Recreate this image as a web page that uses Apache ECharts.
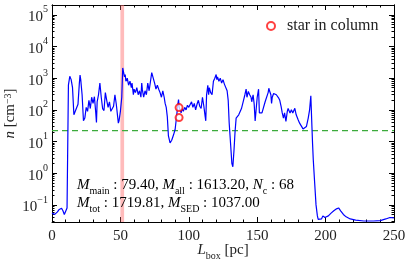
<!DOCTYPE html>
<html><head><meta charset="utf-8">
<script src="https://cdn.jsdelivr.net/npm/echarts@6/dist/echarts.min.js"></script>
<style>html,body{margin:0;padding:0;background:#fff}#c{width:407px;height:262px}</style>
</head><body><div id="c"></div>
<script>
// ---- data ----
const L_pc = [
 0,1,2,3,4,5,6,7,8,9,10,11,12,13,14,15,16,17,18,19,20,20.5,21,22,23,24,25,26,27,28,29,30,31,32,32.5,33,34,35,36,37,38,39,40,41,42,43,44,45,46,47,48,48.5,49,50,51,51.7,
 52,52.5,53,53.5,54,55,56,57,58,58.5,59.5,60,61,62,63,64,65,65.6,66,67,68,69,70,71,72,72.9,73.5,74,75,76,76.6,77,78,79,80,80.3,81,82,82.7,83.5,84.3,85.1,86.3,87.5,88.8,90,91.2,92,92.5,93,94.4,95,96,97,98,99,
 100,101,102,103,104,105,106,107,108,109,110,111,112,112.4,113,113.9,114.5,115,116,117,118,119,120,120.5,121,122,123,124,125,126,127,128,128.8,129.5,130.5,131.5,132.2,133,133.8,134.6,135.5,136.5,137.5,138.5,139.5,140,141,141.9,142.5,143.5,144.5,145.5,146,147,147.8,148.5,149.5,150,151,151.6,152.5,153.5,154.5,155.8,
 157,158,158.5,159,160,160.5,161,162,163,164,165,165.6,166.5,167.5,168.3,169.2,170,171,172,172.6,174,175,176,177.5,178.5,180,181,182.4,183.5,184.8,186,187.3,188.3,189.2,190,190.5,191,192,193,194,194.6,
 195,196,197,198,198.5,199.5,200.5,202,204,206,208,209.5,211,213,215,218,222,228,235,240,244,247,250
];
const n_cm3 = [
 0.055,0.052,0.05,0.053,0.06,0.07,0.08,0.078,0.065,0.05,0.045,0.08,600,1150,900,500,70,90,80,150,700,1250,900,300,45,55,120,90,200,110,250,160,260,80,40,180,300,700,250,110,95,350,200,120,180,90,80,130,300,150,60,38,45,90,250,2100,
 2000,1400,1100,1300,800,1000,600,800,500,700,300,450,350,500,300,400,250,700,450,250,400,300,700,400,800,1500,1300,1400,700,450,400,600,450,350,250,260,400,250,160,120,60,15,9,11,16,24,70,150,210,120,80,110,90,120,100,140,
 120,110,180,120,160,100,150,200,130,110,250,130,60,45,300,600,300,500,350,300,800,1000,1300,900,1100,800,1000,700,900,650,700,400,200,40,9,2,1.6,5,20,55,60,70,75,110,100,200,300,450,250,380,300,250,180,300,150,45,40,250,450,80,70,80,75,180,
 160,350,480,400,300,160,250,330,380,300,330,240,200,126,80,55,80,43,90,110,80,100,80,112,70,48,38,34,25,22,30,55,100,280,30,8,2.6,0.5,0.1,0.045,0.035,
 0.035,0.034,0.036,0.045,0.05,0.04,0.038,0.045,0.055,0.065,0.075,0.08,0.065,0.05,0.042,0.036,0.033,0.031,0.031,0.032,0.036,0.04,0.039
];
const starL = [92.9, 92.9];
const starN = [118, 57];
const bandL = [50, 52.7];
const threshold = 22;
const xRange = [0, 250];
const yRange = [Math.pow(10, -1.54), Math.pow(10, 5.31)];
const yMajor = [0.1, 1, 10, 100, 1000, 10000, 100000];
const yMinor = [];
for (let e = -2; e <= 5; e++) for (let k = 2; k <= 9; k++) {
  const v = k * Math.pow(10, e);
  if (v > yRange[0] && v < yRange[1]) yMinor.push(v);
}
const annot1 = '{i|M}{sub|main}{t| : 79.40, }{i|M}{sub|all}{t| : 1613.20, }{i|N}{sub|c}{t| : 68}';
const annot2 = '{i|M}{sub|tot}{t| : 1719.81, }{i|M}{sub|SED}{t| : 1037.00}';

// ---- chart ----
const F = 'Liberation Serif';
const chart = echarts.init(document.getElementById('c'), null, {renderer: 'canvas'});
const subRich = {
  t: {fontFamily: F, fontSize: 15, color: '#222', lineHeight: 18, verticalAlign: 'top'},
  i: {fontFamily: F, fontSize: 15, fontStyle: 'italic', color: '#222', lineHeight: 18, verticalAlign: 'top'},
  sub: {fontFamily: F, fontSize: 10, color: '#222', lineHeight: 8, verticalAlign: 'bottom'},
  sup: {fontFamily: F, fontSize: 10, color: '#222', lineHeight: 10, verticalAlign: 'top'},
  b: {fontFamily: F, fontSize: 15, color: '#222', lineHeight: 20, verticalAlign: 'bottom'}
};
function yAxisDef(pos, major, showLabel, withName) {
  return {
    type: 'log', logBase: 10, min: yRange[0], max: yRange[1], position: pos,
    axisLine: {show: true, lineStyle: {color: '#000', width: 1}},
    axisTick: {show: true, inside: true, length: major ? 5 : 2.5, lineStyle: {color: '#000', width: 1},
               customValues: major ? yMajor : yMinor},
    axisLabel: {show: showLabel, customValues: yMajor, margin: 4,
      formatter: function (v) {
        const val = typeof v === 'object' ? v.value : v;
        const e = Math.round(Math.log10(val));
        return '{b|10}{sup|' + (e < 0 ? '\u2212' + (-e) : e) + '}';
      }, rich: subRich},
    splitLine: {show: false}, minorTick: {show: false}, minorSplitLine: {show: false},
    name: withName ? '{i|n}{t| [cm}{sup|\u22123}{t|]}' : '',
    nameLocation: 'middle', nameGap: 31, nameRotate: 90, nameMoveOverlap: false,
    nameTextStyle: {rich: subRich}
  };
}
function xAxisDef(pos, showLabel, withName) {
  return {
    type: 'value', min: xRange[0], max: xRange[1], interval: 50, position: pos,
    axisLine: {show: true, onZero: false, lineStyle: {color: '#000', width: 1}},
    axisTick: {show: true, inside: true, length: 5, lineStyle: {color: '#000', width: 1}},
    minorTick: {show: true, splitNumber: 5, length: 2.5, lineStyle: {color: '#000', width: 1}},
    axisLabel: {show: showLabel, fontFamily: F, fontSize: 15, color: '#222', margin: 7},
    splitLine: {show: false}, minorSplitLine: {show: false},
    name: withName ? '{i|L}{sub|box}{t| [pc]}' : '',
    nameLocation: 'middle', nameGap: 21, nameMoveOverlap: false, nameTextStyle: {rich: subRich}
  };
}
chart.setOption({
  animation: false,
  backgroundColor: '#fff',
  grid: {left: 52, right: 13, top: 5, bottom: 40, containLabel: false, outerBoundsMode: 'none'},
  xAxis: [xAxisDef('bottom', true, true), xAxisDef('top', false, false)],
  yAxis: [yAxisDef('left', true, true, true), yAxisDef('left', false, false, false),
          yAxisDef('right', true, false, false), yAxisDef('right', false, false, false)],
  legend: {
    data: [{name: 'star in column', icon: 'emptyCircle'}],
    left: 266, top: 18, padding: 0, itemWidth: 8, itemHeight: 8,
    textStyle: {fontFamily: F, fontSize: 16, color: '#222', padding: [0, 0, 0, 7]}
  },
  graphic: [
    {type: 'text', left: 77, top: 178, z: 10, style: {text: annot1, rich: subRich}},
    {type: 'text', left: 77, top: 196, z: 10, style: {text: annot2, rich: subRich}}
  ],
  series: [
    {
      type: 'line', name: 'band', xAxisIndex: 0, yAxisIndex: 0, data: [], z: 1,
      markArea: {silent: true, itemStyle: {color: 'rgba(255,120,120,0.5)'},
        data: [[{xAxis: bandL[0]}, {xAxis: bandL[1]}]]}
    },
    {
      type: 'line', name: 'threshold', xAxisIndex: 0, yAxisIndex: 0, z: 2,
      data: [[xRange[0], threshold], [xRange[1], threshold]],
      showSymbol: false, symbol: 'none',
      lineStyle: {color: '#3cab3c', type: [6, 4], width: 1.2}
    },
    {
      type: 'line', name: 'n', xAxisIndex: 0, yAxisIndex: 0, z: 3,
      data: L_pc.map((x, i) => [x, n_cm3[i]]),
      showSymbol: false, symbol: 'none',
      lineStyle: {color: '#0000ff', width: 1.2}
    },
    {
      type: 'scatter', name: 'star in column', xAxisIndex: 0, yAxisIndex: 0, z: 4,
      data: starL.map((x, i) => [x, starN[i]]),
      symbol: 'emptyCircle', symbolSize: 7,
      itemStyle: {color: '#ff0000', borderColor: '#ff0000', borderWidth: 1.2, opacity: 0.75}
    }
  ]
});
</script></body></html>
